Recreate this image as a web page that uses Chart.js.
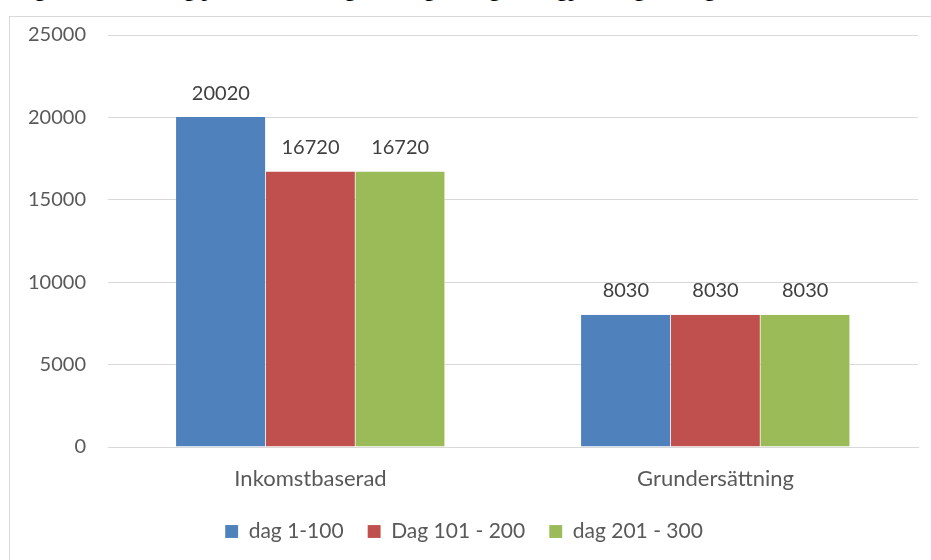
<!DOCTYPE html>
<html>
<head>
<meta charset="utf-8">
<script src="https://cdn.jsdelivr.net/npm/chart.js@4"></script>
<style>
  body { margin: 0; background: #fff; overflow: hidden; }
  #titel { position: absolute; left: 14px; top: -25px; font: 24px "Liberation Serif", serif; color: #000; white-space: nowrap; }
  #ram { position: absolute; left: 9px; top: 16px; width: 940px; height: 560px; border: 1px solid #d9d9d9; background: #fff; }
  #wrap { position: absolute; left: 0; top: 0; width: 921px; height: 543px; }
</style>
</head>
<body>
<div id="titel">Figur 4: Ersättning per månad enligt förslaget, högsta dagpenning 22 dagar / månad</div>
<div id="ram"><div id="wrap"><canvas id="graf"></canvas></div></div>
<script>
const kategorier = ['Inkomstbaserad', 'Grundersättning'];
const serieNamn = ['dag 1-100', 'Dag 101 - 200', 'dag 201 - 300'];
const dag1_100 = [20020, 8030];
const dag101_200 = [16720, 8030];
const dag201_300 = [16720, 8030];
const farger = ['#4f81bd', '#c0504d', '#9bbb59'];
const yTicks = [0, 5000, 10000, 15000, 20000, 25000];

const FONT = 'Lato, "Open Sans", sans-serif';

const vardeEtiketter = {
  id: 'vardeEtiketter',
  afterDatasetsDraw(chart) {
    const ctx = chart.ctx;
    ctx.save();
    ctx.font = '20px ' + FONT;
    ctx.fillStyle = '#404040';
    ctx.textAlign = 'center';
    ctx.textBaseline = 'middle';
    chart.data.datasets.forEach(function(ds, i) {
      chart.getDatasetMeta(i).data.forEach(function(bar, j) {
        ctx.fillText(String(ds.data[j]), bar.x, bar.y - 24);
      });
    });
    ctx.restore();
  }
};

const serier = [dag1_100, dag101_200, dag201_300];

new Chart(document.getElementById('graf'), {
  type: 'bar',
  data: {
    labels: kategorier,
    datasets: serier.map(function(d, i) {
      return {
        label: serieNamn[i],
        data: d,
        backgroundColor: farger[i],
        borderColor: '#ffffff',
        borderWidth: { left: 0, right: 0.5, top: 0, bottom: 0 },
        categoryPercentage: 0.664,
        barPercentage: 1
      };
    })
  },
  options: {
    responsive: true,
    maintainAspectRatio: false,
    animation: false,
    layout: { padding: { top: 18, right: 13, left: 0, bottom: 8 } },
    plugins: {
      tooltip: { enabled: false },
      legend: {
        position: 'bottom',
        labels: {
          font: { family: FONT, size: 21 },
          color: '#595959',
          boxWidth: 13,
          boxHeight: 13,
          padding: 24
        }
      }
    },
    scales: {
      x: {
        grid: { display: false, drawTicks: false },
        border: { color: '#d9d9d9' },
        ticks: { font: { family: FONT, size: 22 }, color: '#595959', padding: 19 },
        afterFit: function(s) { s.height = 50; }
      },
      y: {
        min: 0,
        max: 25000,
        afterBuildTicks: function(s) { s.ticks = yTicks.map(function(v) { return { value: v }; }); },
        grid: { color: '#d9d9d9', drawTicks: false },
        border: { display: false },
        ticks: {
          font: { family: FONT, size: 20 },
          color: '#595959',
          padding: 22,
          callback: function(v) { return String(v); }
        },
        afterFit: function(s) { s.width = 98; s.paddingTop = 0; s.paddingBottom = 0; }
      }
    }
  },
  plugins: [vardeEtiketter]
});
</script>
</body>
</html>
